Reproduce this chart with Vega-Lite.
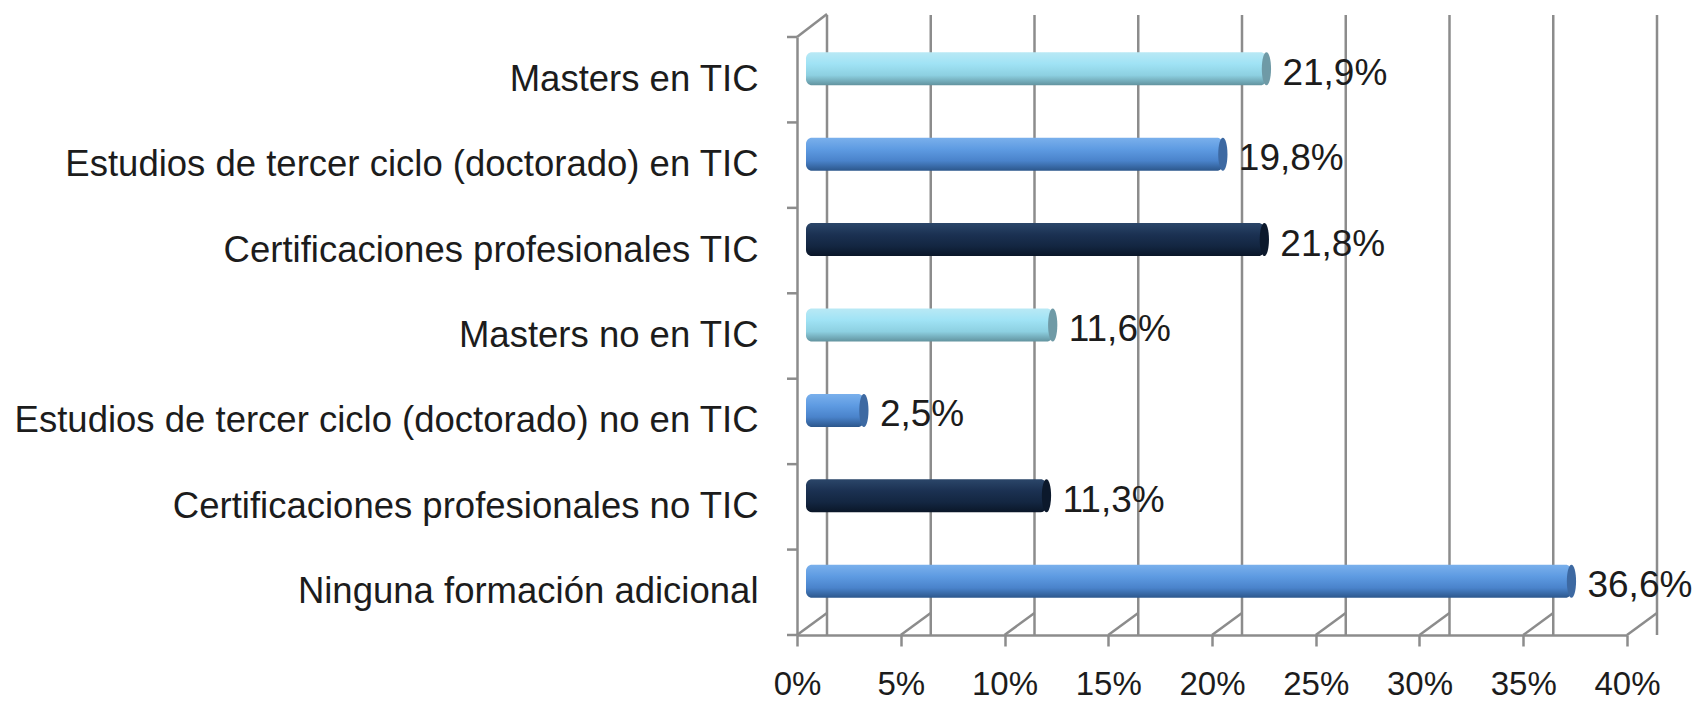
{
  "$schema": "https://vega.github.io/schema/vega-lite/v6.json",
  "width": 830,
  "height": 598,
  "autosize": {"type": "none"},
  "padding": {"left": 797, "top": 37, "right": 69, "bottom": 67},
  "background": "white",
  "config": {
    "locale": {"number": {"decimal": ",", "thousands": ".", "grouping": [3], "currency": ["", " €"]}},
    "view": {"stroke": null},
    "font": "Liberation Sans",
    "axisX": {"grid": false, "domain": true, "domainColor": "#8c8c8c", "domainWidth": 2.5, "ticks": true, "tickColor": "#8c8c8c", "tickWidth": 2.5, "tickSize": 11, "labelFontSize": 33, "labelColor": "#1c1c1c", "labelPadding": 22, "labelOverlap": false, "labelFlush": false, "labelFont": "Liberation Sans"},
    "axisY": {"grid": false, "domain": true, "domainColor": "#8c8c8c", "domainWidth": 2.5, "ticks": false, "tickSize": 0, "labelFontSize": 36.5, "labelColor": "#1c1c1c", "labelPadding": 39, "labelLimit": 900, "labelFont": "Liberation Sans"}
  },
  "data": {"values": [
    {"formacion": "Masters en TIC", "valor": 0.219},
    {"formacion": "Estudios de tercer ciclo (doctorado) en TIC", "valor": 0.198},
    {"formacion": "Certificaciones profesionales TIC", "valor": 0.218},
    {"formacion": "Masters no en TIC", "valor": 0.116},
    {"formacion": "Estudios de tercer ciclo (doctorado) no en TIC", "valor": 0.025},
    {"formacion": "Certificaciones profesionales no TIC", "valor": 0.113},
    {"formacion": "Ninguna formación adicional", "valor": 0.366}
  ]},
  "layer": [
    {
      "data": {"values": [{"v": 0}, {"v": 0.05}, {"v": 0.1}, {"v": 0.15}, {"v": 0.2}, {"v": 0.25}, {"v": 0.3}, {"v": 0.35}, {"v": 0.4}]},
      "mark": {"type": "rule", "color": "#8c8c8c", "strokeWidth": 2.5, "xOffset": 30, "yOffset": -22, "y2Offset": -22},
      "encoding": {
        "x": {"field": "v", "type": "quantitative", "scale": {"domain": [0, 0.4], "nice": false}, "axis": {"format": ".0%", "values": [0, 0.05, 0.1, 0.15, 0.2, 0.25, 0.3, 0.35, 0.4], "title": null}}
      }
    },
    {
      "data": {"values": [{"v": 0}, {"v": 0.05}, {"v": 0.1}, {"v": 0.15}, {"v": 0.2}, {"v": 0.25}, {"v": 0.3}, {"v": 0.35}, {"v": 0.4}]},
      "mark": {"type": "rule", "color": "#8c8c8c", "strokeWidth": 2.5, "x2Offset": 30, "y2Offset": -22},
      "encoding": {
        "x": {"field": "v", "type": "quantitative", "scale": {"domain": [0, 0.4], "nice": false}, "axis": {"format": ".0%", "values": [0, 0.05, 0.1, 0.15, 0.2, 0.25, 0.3, 0.35, 0.4], "title": null}},
        "x2": {"field": "v"},
        "y": {"value": "height"},
        "y2": {"value": "height"}
      }
    },
    {
      "data": {"values": [{"v": 0}]},
      "mark": {"type": "rule", "color": "#8c8c8c", "strokeWidth": 2.5, "x2Offset": 30, "y2Offset": -23},
      "encoding": {
        "x": {"field": "v", "type": "quantitative", "scale": {"domain": [0, 0.4], "nice": false}, "axis": {"format": ".0%", "values": [0, 0.05, 0.1, 0.15, 0.2, 0.25, 0.3, 0.35, 0.4], "title": null}},
        "x2": {"field": "v"},
        "y": {"value": 0},
        "y2": {"value": 0}
      }
    },
    {
      "mark": {"type": "rule", "color": "#8c8c8c", "strokeWidth": 2.5, "xOffset": -10},
      "encoding": {
        "y": {"field": "formacion", "type": "nominal", "sort": null, "bandPosition": 0, "scale": {"paddingInner": 0, "paddingOuter": 0}, "axis": {"title": null}},
        "x": {"datum": 0, "type": "quantitative", "scale": {"domain": [0, 0.4], "nice": false}, "axis": {"format": ".0%", "values": [0, 0.05, 0.1, 0.15, 0.2, 0.25, 0.3, 0.35, 0.4], "title": null}},
        "x2": {"datum": 0}
      }
    },
    {
      "data": {"values": [{"v": 0}]},
      "mark": {"type": "rule", "color": "#8c8c8c", "strokeWidth": 2.5, "xOffset": -10},
      "encoding": {
        "x": {"field": "v", "type": "quantitative", "scale": {"domain": [0, 0.4], "nice": false}, "axis": {"format": ".0%", "values": [0, 0.05, 0.1, 0.15, 0.2, 0.25, 0.3, 0.35, 0.4], "title": null}},
        "x2": {"field": "v"},
        "y": {"value": "height"}
      }
    },
    {
      "transform": [{"filter": {"field": "formacion", "oneOf": ["Masters en TIC", "Masters no en TIC"]}}],
      "encoding": {
        "y": {"field": "formacion", "type": "nominal", "sort": null, "scale": {"paddingInner": 0, "paddingOuter": 0}, "axis": {"title": null}},
        "x": {"field": "valor", "type": "quantitative", "stack": null, "scale": {"domain": [0, 0.4], "nice": false}, "axis": {"format": ".0%", "values": [0, 0.05, 0.1, 0.15, 0.2, 0.25, 0.3, 0.35, 0.4], "title": null}}
      },
      "layer": [
        {"mark": {"type": "bar", "height": 33, "cornerRadius": 6, "xOffset": 15, "x2Offset": 9, "yOffset": -11, "fill": {"gradient": "linear", "x1": 0, "y1": 0, "x2": 0, "y2": 1, "stops": [{"offset": 0, "color": "#b9e9f5"}, {"offset": 0.35, "color": "#a0e3f5"}, {"offset": 0.7, "color": "#8dd0e1"}, {"offset": 1, "color": "#62939f"}]}},
         "encoding": {"x2": {"datum": 0}}},
        {"mark": {"type": "point", "shape": "M -0.28 0 A 0.28 1 0 1 0 0.28 0 A 0.28 1 0 1 0 -0.28 0 Z", "size": 1089, "filled": true, "opacity": 1, "fill": "#6f9aa6", "strokeWidth": 0, "xOffset": 15, "yOffset": -11}}
      ]
    },
    {
      "transform": [{"filter": {"field": "formacion", "oneOf": ["Estudios de tercer ciclo (doctorado) en TIC", "Estudios de tercer ciclo (doctorado) no en TIC", "Ninguna formación adicional"]}}],
      "encoding": {
        "y": {"field": "formacion", "type": "nominal", "sort": null, "scale": {"paddingInner": 0, "paddingOuter": 0}, "axis": {"title": null}},
        "x": {"field": "valor", "type": "quantitative", "stack": null, "scale": {"domain": [0, 0.4], "nice": false}, "axis": {"format": ".0%", "values": [0, 0.05, 0.1, 0.15, 0.2, 0.25, 0.3, 0.35, 0.4], "title": null}}
      },
      "layer": [
        {"mark": {"type": "bar", "height": 33, "cornerRadius": 6, "xOffset": 15, "x2Offset": 9, "yOffset": -11, "fill": {"gradient": "linear", "x1": 0, "y1": 0, "x2": 0, "y2": 1, "stops": [{"offset": 0, "color": "#7ab0ec"}, {"offset": 0.35, "color": "#5e9be2"}, {"offset": 0.7, "color": "#4a83cb"}, {"offset": 1, "color": "#2c578c"}]}},
         "encoding": {"x2": {"datum": 0}}},
        {"mark": {"type": "point", "shape": "M -0.28 0 A 0.28 1 0 1 0 0.28 0 A 0.28 1 0 1 0 -0.28 0 Z", "size": 1089, "filled": true, "opacity": 1, "fill": "#3d69a2", "strokeWidth": 0, "xOffset": 15, "yOffset": -11}}
      ]
    },
    {
      "transform": [{"filter": {"field": "formacion", "oneOf": ["Certificaciones profesionales TIC", "Certificaciones profesionales no TIC"]}}],
      "encoding": {
        "y": {"field": "formacion", "type": "nominal", "sort": null, "scale": {"paddingInner": 0, "paddingOuter": 0}, "axis": {"title": null}},
        "x": {"field": "valor", "type": "quantitative", "stack": null, "scale": {"domain": [0, 0.4], "nice": false}, "axis": {"format": ".0%", "values": [0, 0.05, 0.1, 0.15, 0.2, 0.25, 0.3, 0.35, 0.4], "title": null}}
      },
      "layer": [
        {"mark": {"type": "bar", "height": 33, "cornerRadius": 6, "xOffset": 15, "x2Offset": 9, "yOffset": -11, "fill": {"gradient": "linear", "x1": 0, "y1": 0, "x2": 0, "y2": 1, "stops": [{"offset": 0, "color": "#2b4669"}, {"offset": 0.35, "color": "#1b3152"}, {"offset": 0.7, "color": "#132641"}, {"offset": 1, "color": "#0a1628"}]}},
         "encoding": {"x2": {"datum": 0}}},
        {"mark": {"type": "point", "shape": "M -0.28 0 A 0.28 1 0 1 0 0.28 0 A 0.28 1 0 1 0 -0.28 0 Z", "size": 1089, "filled": true, "opacity": 1, "fill": "#0c192c", "strokeWidth": 0, "xOffset": 15, "yOffset": -11}}
      ]
    },
    {
      "mark": {"type": "text", "align": "left", "baseline": "middle", "fontSize": 37, "color": "#1c1c1c", "font": "Liberation Sans", "xOffset": 31, "yOffset": -6},
      "encoding": {
        "y": {"field": "formacion", "type": "nominal", "sort": null, "scale": {"paddingInner": 0, "paddingOuter": 0}, "axis": {"title": null}},
        "x": {"field": "valor", "type": "quantitative", "scale": {"domain": [0, 0.4], "nice": false}, "axis": {"format": ".0%", "values": [0, 0.05, 0.1, 0.15, 0.2, 0.25, 0.3, 0.35, 0.4], "title": null}},
        "text": {"field": "valor", "type": "quantitative", "format": ".1%"}
      }
    }
  ]
}
